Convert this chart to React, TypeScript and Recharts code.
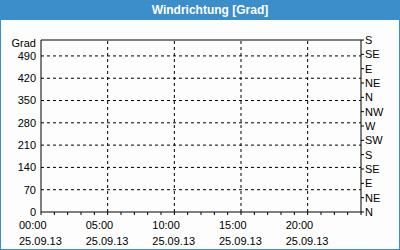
import { Line, LineChart, ReferenceLine, XAxis, YAxis } from "recharts";

const hourTicks = [0, 1, 2, 3, 4, 5, 6, 7, 8, 9, 10, 11, 12, 13, 14, 15, 16, 17, 18, 19, 20, 21, 22, 23, 24];
const hourLabels: Record<number, string> = { 0: "00:00", 5: "05:00", 10: "10:00", 15: "15:00", 20: "20:00" };
const dateLabel = "25.09.13";
const gradTicks = [0, 70, 140, 210, 280, 350, 420, 490];
const compassTicks = [0, 45, 90, 135, 180, 225, 270, 315, 360, 405, 450, 495, 540];
const compassNames = ["N", "NE", "E", "SE", "S", "SW", "W", "NW", "N", "NE", "E", "SE", "S"];
const gridHours = [5, 10, 15, 20];
// no measurements in the reference, series stays empty
const windDirection: (number | null)[] = [];

const data = hourTicks.map((h, i) => ({ hour: h, dir: windDirection[i] ?? null }));

const FONT = "'Liberation Sans', Arial, sans-serif";
const BLUE = "#3b8ec9";

interface TickArgs {
  x?: number;
  y?: number;
  payload?: { value: number };
}

function HourTick({ x = 0, y = 0, payload }: TickArgs) {
  const label = payload ? hourLabels[payload.value] : undefined;
  if (!label) return null;
  return (
    <g>
      <text x={x - 22} y={y + 12} fontSize={11} fontFamily={FONT} fill="#000" textAnchor="start">
        {label}
      </text>
      <text x={x - 22} y={y + 28} fontSize={11} fontFamily={FONT} fill="#000" textAnchor="start">
        {dateLabel}
      </text>
    </g>
  );
}

export default function App() {
  return (
    <div
      style={{
        position: "absolute",
        left: 0,
        top: 0,
        width: 400,
        height: 250,
        boxSizing: "border-box",
        border: `1px solid ${BLUE}`,
        borderTop: "none",
        background: "#fcfdfc",
        fontFamily: FONT,
      }}
    >
      <div
        style={{
          height: 20,
          background: BLUE,
          color: "#fff",
          fontWeight: "bold",
          fontSize: 12,
          lineHeight: "20px",
          textAlign: "center",
          paddingLeft: 20,
          margin: "0 -1px",
        }}
      >
        Windrichtung [Grad]
      </div>
      <LineChart width={398} height={229} data={data} margin={{ top: 20, right: 0, bottom: 0, left: 0 }}>
        <XAxis
          dataKey="hour"
          type="number"
          domain={[0, 24]}
          ticks={hourTicks}
          interval={0}
          height={37}
          tickSize={3}
          tickMargin={2}
          stroke="#000"
          allowDataOverflow
          tick={<HourTick />}
        />
        <YAxis
          yAxisId="left"
          orientation="left"
          type="number"
          domain={[0, 540]}
          allowDataOverflow
          ticks={gradTicks}
          interval={0}
          width={40}
          tickLine={false}
          tickSize={0}
          tickMargin={5}
          stroke="#000"
          tick={{ fontSize: 11, fontFamily: FONT, fill: "#000" }}
          label={{ value: "Grad", position: "insideTopRight", offset: 0, dx: -5, dy: -1, fontSize: 11, fontFamily: FONT, fill: "#000" }}
        />
        <YAxis
          yAxisId="right"
          orientation="right"
          type="number"
          domain={[0, 540]}
          allowDataOverflow
          ticks={compassTicks}
          interval={0}
          width={38}
          tickSize={3}
          tickMargin={1}
          stroke="#000"
          tickFormatter={(v: number) => compassNames[compassTicks.indexOf(v)] ?? ""}
          tick={{ fontSize: 11, fontFamily: FONT, fill: "#000", textAnchor: "start" }}
        />
        {gradTicks.slice(1).map((g) => (
          <ReferenceLine key={"h" + g} yAxisId="left" y={g} stroke="#000" strokeDasharray="3 3" />
        ))}
        {gridHours.map((h) => (
          <ReferenceLine key={"v" + h} yAxisId="left" x={h} stroke="#000" strokeDasharray="3 3" />
        ))}
        <ReferenceLine yAxisId="left" y={540} stroke="#000" />
        <Line yAxisId="left" dataKey="dir" stroke="#1f5fbf" dot={false} isAnimationActive={false} />
      </LineChart>
    </div>
  );
}
